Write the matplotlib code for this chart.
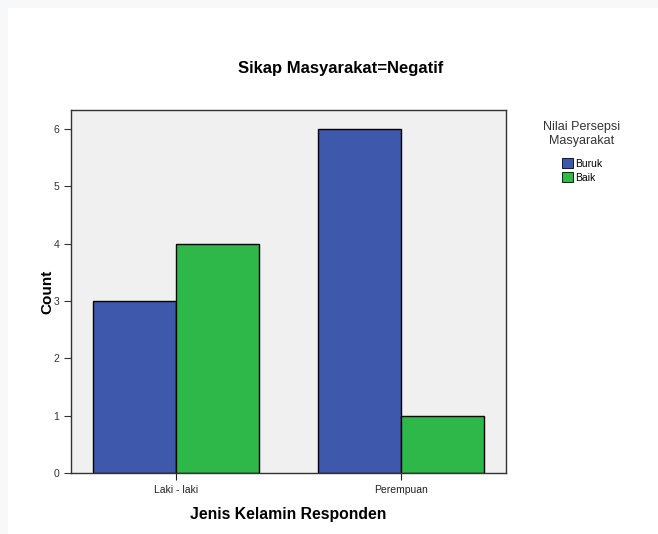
import matplotlib
matplotlib.use("Agg")
import matplotlib.pyplot as plt
from matplotlib.patches import Rectangle, Patch
import numpy as np

plt.rcParams['font.family'] = ['Liberation Sans', 'DejaVu Sans']

categories = ["Laki - laki", "Perempuan"]
series_names = ["Buruk", "Baik"]
buruk = [3, 6]
baik = [4, 1]
colors = ["#3e58ac", "#2fb84a"]

W, H = 658, 534
fig = plt.figure(figsize=(W / 100, H / 100), dpi=100)
fig.patch.set_facecolor("white")
# outer light frame
fig.patches.append(Rectangle((0, 0), 1, 1, transform=fig.transFigure,
                             facecolor="#f7f8fa", edgecolor="none", zorder=-10))
fig.patches.append(Rectangle((8 / W, 0), 1 - 8 / W, 1 - 8 / H, transform=fig.transFigure,
                             facecolor="white", edgecolor="none", zorder=-9))

left, right, top, bottom = 71, 506, 110, 473
ax = fig.add_axes([left / W, (H - bottom) / H, (right - left) / W, (bottom - top) / H])
ax.set_facecolor("#f0f0f0")

x = np.arange(len(categories))
bw = 0.371
ax.bar(x - bw / 2, buruk, width=bw, color=colors[0], edgecolor="black", linewidth=1.0, label=series_names[0])
ax.bar(x + bw / 2, baik, width=bw, color=colors[1], edgecolor="black", linewidth=1.0, label=series_names[1])

ax.set_xlim(-0.467, 1.467)
ax.set_ylim(0, 6.33)
ax.set_yticks(range(0, 7))
ax.set_xticks(x)
ax.set_xticklabels(categories)
ax.tick_params(axis="both", labelsize=7.5, colors="#333333", length=5, width=0.8, direction="out")
ax.tick_params(axis="x", colors="#222222")
for s in ax.spines.values():
    s.set_color("#333333")
    s.set_linewidth(1.0)

ax.set_ylabel("Count", fontsize=11, fontweight="bold", labelpad=-1)
ax.set_xlabel("Jenis Kelamin Responden", fontsize=11.3, fontweight="bold", labelpad=9)
fig.text(341 / W, 1 - 68 / H, "Sikap Masyarakat=Negatif", ha="center", va="center",
         fontsize=12, fontweight="bold")

handles = [Patch(facecolor=colors[0], edgecolor="black", linewidth=0.6),
           Patch(facecolor=colors[1], edgecolor="black", linewidth=0.6)]
leg = fig.legend(handles, series_names, title="Nilai Persepsi\nMasyarakat",
                 loc="upper center", bbox_to_anchor=(582 / W, 1 - 114 / H),
                 frameon=False, fontsize=7.5, title_fontsize=9,
                 handlelength=1.1, handleheight=1.1, handletextpad=0.15,
                 labelspacing=0.35, borderpad=0.2)
leg._legend_box.sep = 8
leg.get_title().set_multialignment("center")
leg.get_title().set_color("#333333")

fig.savefig("out.png", dpi=100)
